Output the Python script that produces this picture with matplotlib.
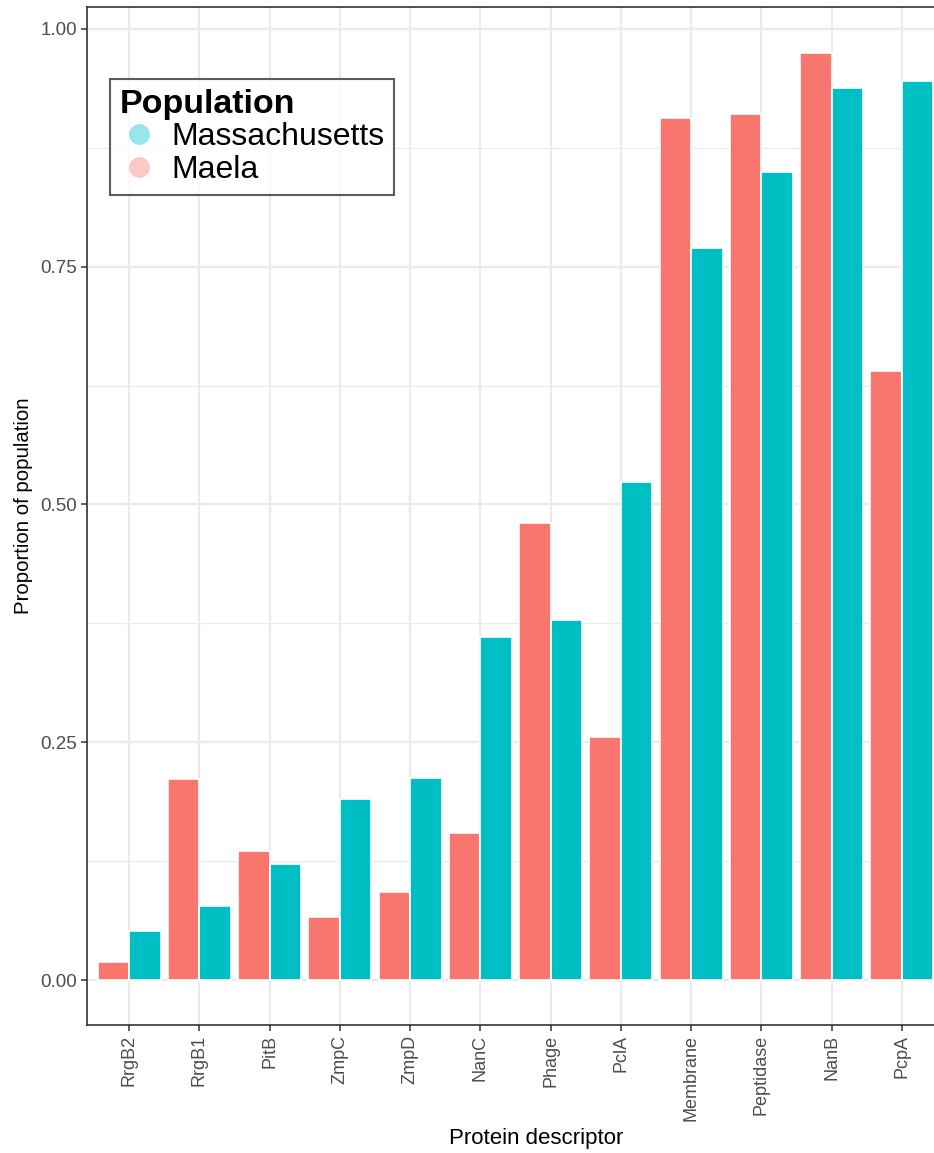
import matplotlib.pyplot as plt
from matplotlib.lines import Line2D
from matplotlib.ticker import MultipleLocator
import numpy as np

plt.rcParams['font.family'] = ['Liberation Sans', 'DejaVu Sans']

# Доля популяции с белком, по каждому дескриптору
proteins = ['RrgB2', 'RrgB1', 'PitB', 'ZmpC', 'ZmpD', 'NanC', 'Phage',
            'PclA', 'Membrane', 'Peptidase', 'NanB', 'PcpA']
maela = [0.019, 0.211, 0.136, 0.066, 0.093, 0.155, 0.481,
         0.256, 0.906, 0.910, 0.975, 0.640]
massachusetts = [0.052, 0.078, 0.122, 0.190, 0.212, 0.361, 0.378,
                 0.524, 0.770, 0.849, 0.938, 0.945]

col_maela = '#F8766D'
col_mass = '#00BFC4'

W, H = 934, 1153
fig = plt.figure(figsize=(W / 100, H / 100), dpi=100)
# правый край области графика уходит за границу картинки
ax = fig.add_axes([87 / W, (H - 1025) / H, (944 - 87) / W, (1025 - 7) / H])

x = np.arange(1, len(proteins) + 1)
bw = 0.45
ax.bar(x - bw / 2, maela, width=bw, color=col_maela, edgecolor='white',
       linewidth=1.2, zorder=3)
ax.bar(x + bw / 2, massachusetts, width=bw, color=col_mass, edgecolor='white',
       linewidth=1.2, zorder=3)

ax.set_xlim(0.4, len(proteins) + 0.6)
ax.set_ylim(-0.0473, 1.023)

ax.set_xticks(x)
ax.set_xticklabels(proteins, rotation=90, fontsize=13, color='#4D4D4D')
ax.yaxis.set_major_locator(MultipleLocator(0.25))
ax.yaxis.set_minor_locator(MultipleLocator(0.125))
ax.set_yticks([0, 0.25, 0.5, 0.75, 1.0])
ax.set_yticklabels(['0.00', '0.25', '0.50', '0.75', '1.00'],
                   fontsize=13.5, color='#4D4D4D')
ax.tick_params(axis='both', which='major', length=4, width=1.1,
               color='#333333', pad=3)
ax.tick_params(axis='y', which='minor', length=0)

ax.grid(True, which='major', color='#EBEBEB', linewidth=1.6, zorder=0)
ax.grid(True, which='minor', axis='y', color='#EBEBEB', linewidth=0.8, zorder=0)
ax.set_axisbelow(True)

for s in ax.spines.values():
    s.set_color('#333333')
    s.set_linewidth(1.2)

ax.set_xlabel('Protein descriptor', fontsize=16)
ax.set_ylabel('Proportion of population', fontsize=14.7)
ax.xaxis.set_label_coords((536 - 87) / 857, -0.101)
ax.yaxis.set_label_coords(-0.063, (1025 - 506) / 1018)

handles = [
    Line2D([], [], marker='o', linestyle='', markersize=15,
           markerfacecolor=col_mass, markeredgecolor='none', alpha=0.4),
    Line2D([], [], marker='o', linestyle='', markersize=15,
           markerfacecolor=col_maela, markeredgecolor='none', alpha=0.4),
]
leg = ax.legend(handles, ['Massachusetts', 'Maela'], title='Population',
                loc='upper left', bbox_to_anchor=(0.027, 0.929),
                fontsize=23, title_fontproperties={'weight': 'bold', 'size': 24.5},
                alignment='left', frameon=True, fancybox=False,
                handletextpad=0.42, handlelength=1.2, labelspacing=0.08,
                borderpad=0.3, borderaxespad=0)
leg.get_frame().set_edgecolor('#333333')
leg.get_frame().set_linewidth(1.5)
leg.set_zorder(5)

fig.savefig('out.png', dpi=100)
